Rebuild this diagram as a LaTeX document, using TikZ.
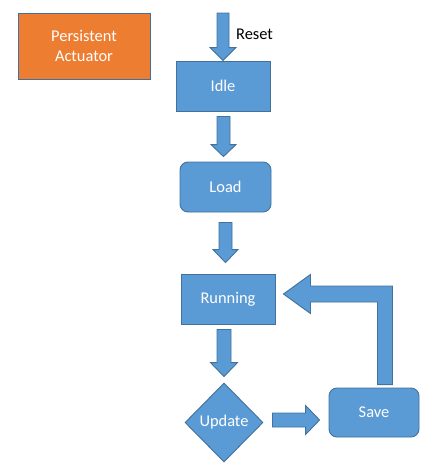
\documentclass[tikz,border=0pt]{standalone}
\usepackage{fontspec}
\setmainfont{Carlito}
\usetikzlibrary{calc,shapes.geometric}
\definecolor{bfill}{HTML}{5B9BD5}
\definecolor{bline}{HTML}{41719C}
\definecolor{ofill}{HTML}{ED7D31}
\tikzset{
  base/.style={draw=bline, line width=0.9pt, text=white, font=\fontsize{16.4}{20}\selectfont, align=center, inner sep=0pt},
  boxs/.style={base, fill=bfill, rectangle, minimum width=94pt, minimum height=50pt},
  rboxs/.style={boxs, rounded corners=8pt},
  dias/.style={base, fill=bfill, diamond, minimum width=78pt, minimum height=79pt},
  orbox/.style={base, fill=ofill, rectangle, minimum width=132pt, minimum height=66pt},
  blk/.style={draw=bline, line width=0.9pt, fill=bfill, line join=miter},
  lbl/.style={font=\fontsize{16.4}{20}\selectfont, text=black, inner sep=0pt}
}
% vertical block arrow: #1 start, #2 tip, #3 half shaft, #4 half head, #5 head length
\newcommand\vblock[5]{%
  \draw[blk] let \p1=(#1), \p2=(#2) in
   (\x1-#3pt,\y1) -- (\x1+#3pt,\y1) -- (\x1+#3pt,\y2+#5pt) -- (\x1+#4pt,\y2+#5pt)
   -- (\x1,\y2) -- (\x1-#4pt,\y2+#5pt) -- (\x1-#3pt,\y2+#5pt) -- cycle;}
% horizontal block arrow (to the right)
\newcommand\hblock[5]{%
  \draw[blk] let \p1=(#1), \p2=(#2) in
   (\x1,\y1+#3pt) -- (\x1,\y1-#3pt) -- (\x2-#5pt,\y1-#3pt) -- (\x2-#5pt,\y1-#4pt)
   -- (\x2,\y1) -- (\x2-#5pt,\y1+#4pt) -- (\x2-#5pt,\y1+#3pt) -- cycle;}
\begin{document}
\begin{tikzpicture}[x=1pt,y=-1pt]
\useasboundingbox (0,0) rectangle (426,469);
\node[orbox] (act) at (84,46) {Persistent\\Actuator};
\node[boxs] (idle) at (223,86) {Idle};
\node[rboxs, minimum width=91pt] (load) at (225.5,187) {Load};
\node[boxs] (run) at (228,299) {Running};
\node[dias] (upd) at (224,422.5) {Update};
\node[rboxs, minimum width=90pt, minimum height=49pt] (save) at (374,412.5) {Save};
\coordinate (rst) at (223,13);
\node[lbl, anchor=west] (rlbl) at (236,34) {Reset};
% arrows
\vblock{rst}{idle.north}{6}{13}{13}
\vblock{$(idle.south)+(0.5,5)$}{$(load.north)+(0,-5)$}{6.5}{12.5}{12}
\vblock{$(load.south)+(0,10)$}{$(run.north)+(0,-11)$}{6.5}{12.5}{13}
\vblock{$(run.south)+(-4,5)$}{$(upd.north)+(0,-6)$}{7}{13.5}{14}
\hblock{$(upd.east)+(9,-2.5)$}{$(save.west)+(-9,0)$}{7}{14.5}{14}
% bent arrow Save -> Running
\draw[blk] let \p1=($(save.north)+(11,-3)$), \p2=($(run.east)+(8,-5)$) in
  (\x1-7.5pt,\y1) -- (\x1+7.5pt,\y1) -- (\x1+7.5pt,\y2+8pt) -- (\x2+27pt,\y2+8pt)
  -- (\x2+27pt,\y2+19.5pt) -- (\x2,\y2) -- (\x2+27pt,\y2-19.5pt) -- (\x2+27pt,\y2-8pt)
  -- (\x1-7.5pt,\y2-8pt) -- cycle;
\end{tikzpicture}
\end{document}
